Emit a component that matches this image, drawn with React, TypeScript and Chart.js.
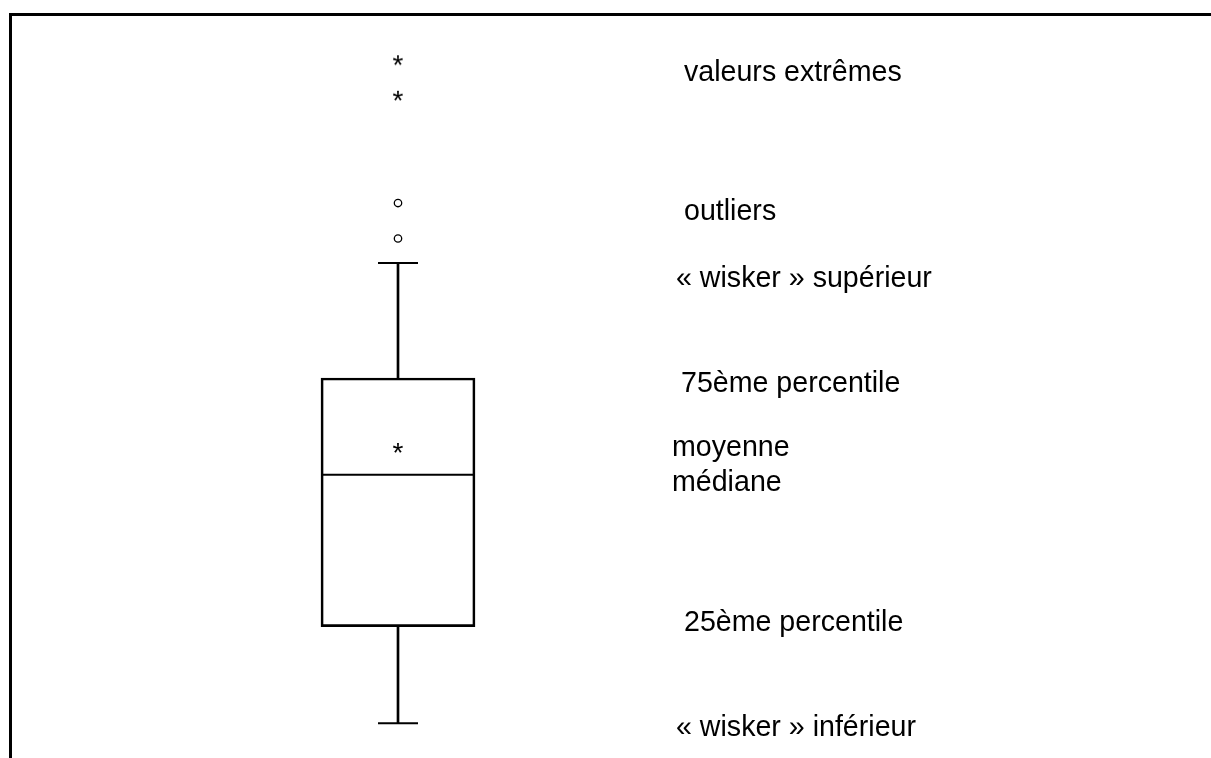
import React, { useEffect, useRef } from 'react';
import { Chart, registerables } from 'chart.js';

Chart.register(...registerables);

// ---- data (schematic box plot) ----
const categories = ['A'];
const lowerWhisker = [0];
const q1 = [21];
const median = [54];
const q3 = [75];
const upperWhisker = [100];
const mean = [59.8];
const outliers = [113, 105.3];
const extremes = [144, 136.3];

const annotationTexts = [
  'valeurs extrêmes',
  'outliers',
  '« wisker » supérieur',
  '75ème percentile',
  'moyenne',
  'médiane',
  '25ème percentile',
  '« wisker » inférieur',
];
const annotationAnchors = [
  extremes[0],
  outliers[0],
  upperWhisker[0],
  q3[0],
  mean[0],
  median[0],
  q1[0],
  lowerWhisker[0],
];

// ---- styles / layout ----
const Y_MIN = -7.54;
const Y_MAX = 157.1;
const FONT = "28.6px 'Liberation Sans', Arial, sans-serif";
const STAR_FONT = "28px 'Liberation Sans', Arial, sans-serif";
const BOX_WIDTH = 154;
const CAP_WIDTH = 40;
const LINE_W = 2;
const LABEL_DX = [286, 286, 278, 283, 274, 274, 286, 278];
const LABEL_DY = [20.5, 17, 24, 14, 8.2, 16, 4.4, 12.5];
const RIGHT_PAD = 415;

function makeAsterisk(): HTMLCanvasElement {
  const c = document.createElement('canvas');
  c.width = 30;
  c.height = 30;
  const ctx = c.getContext('2d')!;
  ctx.font = STAR_FONT;
  ctx.fillStyle = '#000';
  ctx.textAlign = 'left';
  ctx.textBaseline = 'alphabetic';
  const m = ctx.measureText('*');
  const left = m.actualBoundingBoxLeft;
  const right = m.actualBoundingBoxRight;
  const asc = m.actualBoundingBoxAscent;
  const desc = m.actualBoundingBoxDescent;
  const bx = 15 - (right - left) / 2;
  const by = 15 - (desc - asc) / 2;
  ctx.fillText('*', bx, by);
  return c;
}

const boxExtras = {
  id: 'boxExtras',
  afterDatasetsDraw(chart: any) {
    const ctx = chart.ctx;
    const y = chart.scales.y;
    const bar = chart.getDatasetMeta(0).data[0];
    if (!bar) return;
    const cx = bar.x;
    const half = bar.width / 2;
    ctx.save();
    ctx.strokeStyle = '#000';
    ctx.lineWidth = LINE_W;
    const my = y.getPixelForValue(median[0]);
    ctx.beginPath();
    ctx.moveTo(cx - half + 1, my);
    ctx.lineTo(cx + half - 1, my);
    ctx.stroke();
    [upperWhisker[0], lowerWhisker[0]].forEach((v) => {
      const py = y.getPixelForValue(v);
      ctx.beginPath();
      ctx.moveTo(cx - CAP_WIDTH / 2, py);
      ctx.lineTo(cx + CAP_WIDTH / 2, py);
      ctx.stroke();
    });
    ctx.font = FONT;
    ctx.fillStyle = '#000';
    ctx.textAlign = 'left';
    ctx.textBaseline = 'alphabetic';
    annotationTexts.forEach((t, i) => {
      ctx.fillText(t, cx + LABEL_DX[i], y.getPixelForValue(annotationAnchors[i]) + LABEL_DY[i]);
    });
    ctx.restore();
  },
};

export default function App() {
  const ref = useRef<HTMLCanvasElement>(null);

  useEffect(() => {
    if (!ref.current) return;
    const star = makeAsterisk();
    const chart = new Chart(ref.current, {
      type: 'bar',
      data: {
        labels: categories,
        datasets: [
          {
            type: 'bar',
            data: categories.map((_, i) => [q1[i], q3[i]]) as any,
            backgroundColor: 'rgba(0,0,0,0)',
            borderColor: '#000',
            borderWidth: LINE_W,
            borderSkipped: false,
            barThickness: BOX_WIDTH,
            grouped: false,
            order: 2,
          } as any,
          {
            type: 'bar',
            data: categories.map((_, i) => [q3[i], upperWhisker[i]]) as any,
            backgroundColor: '#000',
            borderWidth: 0,
            barThickness: LINE_W,
            grouped: false,
            order: 3,
          } as any,
          {
            type: 'bar',
            data: categories.map((_, i) => [lowerWhisker[i], q1[i]]) as any,
            backgroundColor: '#000',
            borderWidth: 0,
            barThickness: LINE_W,
            grouped: false,
            order: 3,
          } as any,
          {
            type: 'line',
            data: outliers.map((v) => ({ x: categories[0], y: v })) as any,
            showLine: false,
            pointStyle: 'circle',
            pointRadius: 3.7,
            pointBorderWidth: 1.3,
            pointBorderColor: '#000',
            pointBackgroundColor: '#fff',
            order: 1,
          } as any,
          {
            type: 'line',
            data: extremes.map((v) => ({ x: categories[0], y: v })) as any,
            showLine: false,
            pointStyle: star,
            pointRadius: 5,
            order: 1,
          } as any,
          {
            type: 'line',
            data: mean.map((v) => ({ x: categories[0], y: v })) as any,
            showLine: false,
            pointStyle: star,
            pointRadius: 5,
            order: 1,
          } as any,
        ],
      },
      options: {
        animation: false,
        responsive: true,
        maintainAspectRatio: false,
        layout: { autoPadding: false, padding: { left: 0, right: RIGHT_PAD, top: 0, bottom: 0 } },
        plugins: { legend: { display: false }, tooltip: { enabled: false } },
        events: [],
        scales: {
          x: { display: false, offset: true },
          y: { display: false, min: Y_MIN, max: Y_MAX },
        },
      },
      plugins: [boxExtras],
    });
    return () => chart.destroy();
  }, []);

  return (
    <>
      <div
        style={{
          position: 'fixed',
          left: 9,
          top: 13,
          right: 0,
          bottom: 0,
          borderTop: '3px solid #000',
          borderLeft: '3px solid #000',
          background: '#fff',
        }}
      />
      <div style={{ position: 'fixed', left: 0, top: 0, width: 1211, height: 758 }}>
        <canvas ref={ref} />
      </div>
    </>
  );
}
